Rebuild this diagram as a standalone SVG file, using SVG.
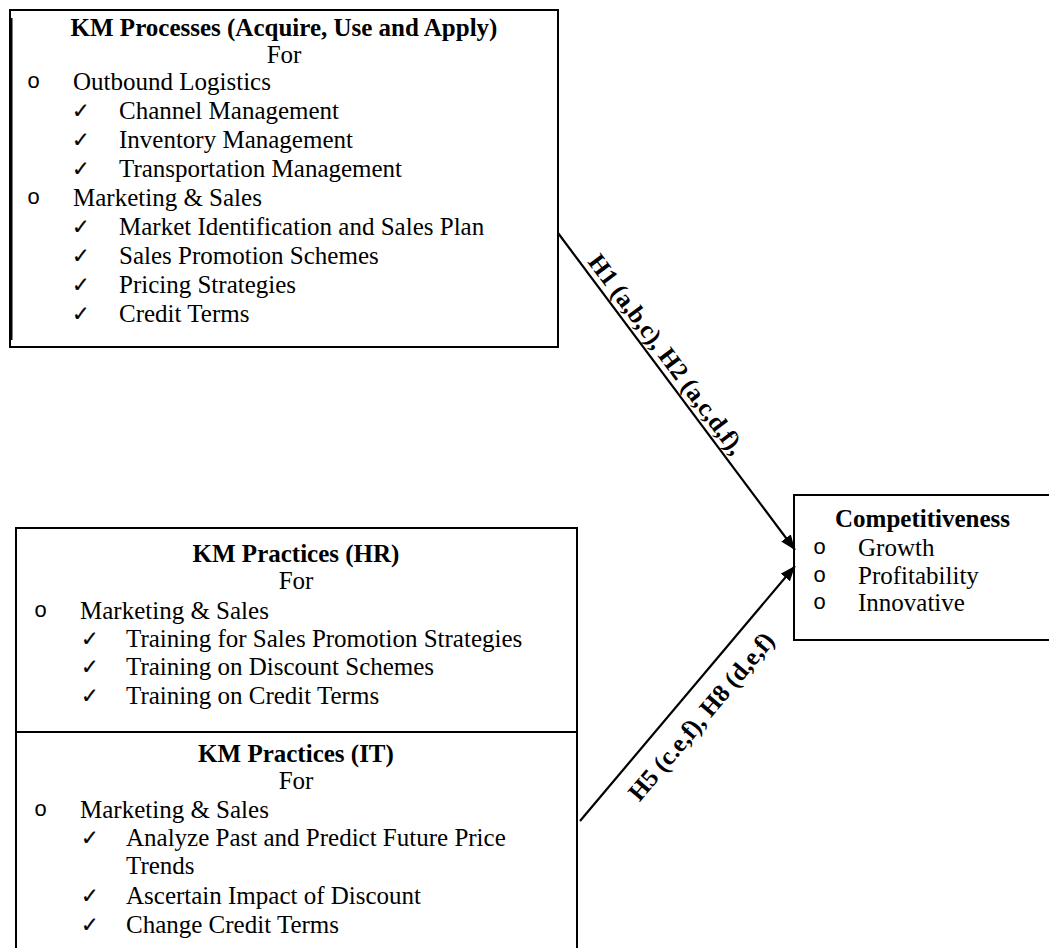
<svg xmlns="http://www.w3.org/2000/svg" width="1049" height="948" viewBox="0 0 1049 948">
  <style>
    .box { fill: #fff; stroke: #000; stroke-width: 2; }
    .t { font-family: "Liberation Serif", "Times New Roman", serif; font-size: 25px; fill: #000; }
    .b { font-weight: bold; }
    .c { text-anchor: middle; }
    .bul { font-family: "Liberation Mono", "Courier New", monospace; font-size: 22px; fill: #000; }
    .chk { font-family: "DejaVu Sans", sans-serif; font-size: 21px; fill: #000; stroke: #000; stroke-width: 0.3; }
    .lbl { font-family: "Liberation Serif", "Times New Roman", serif; font-size: 25px; font-weight: bold; fill: #000; text-anchor: middle; }
    .conn { stroke: #000; stroke-width: 2.2; fill: none; marker-end: url(#arrow); }
  </style>
  <defs>
    <marker id="arrow" markerUnits="userSpaceOnUse" markerWidth="16" markerHeight="12" refX="15" refY="6" orient="auto">
      <path d="M0,0 L15,6 L0,12 z" fill="#000"/>
    </marker>
  </defs>
  <rect width="1049" height="948" fill="#fff"/>

  <!-- KM processes box -->
  <g id="km-processes">
    <rect class="box" x="10" y="10" width="548" height="337"/>
    <line x1="11" y1="18" x2="11" y2="340" stroke="#000" stroke-width="3"/>
    <text class="t b c" x="284" y="36">KM Processes (Acquire, Use and Apply)</text>
    <text class="t c" x="284" y="63">For</text>
    <text class="bul" x="27" y="88">o</text>
    <text class="t" x="73" y="90">Outbound Logistics</text>
    <text class="chk" x="72" y="118">✓</text>
    <text class="t" x="119" y="119">Channel Management</text>
    <text class="chk" x="72" y="147">✓</text>
    <text class="t" x="119" y="148">Inventory Management</text>
    <text class="chk" x="72" y="176">✓</text>
    <text class="t" x="119" y="177">Transportation Management</text>
    <text class="bul" x="27" y="204">o</text>
    <text class="t" x="73" y="206">Marketing &amp; Sales</text>
    <text class="chk" x="72" y="234">✓</text>
    <text class="t" x="119" y="235">Market Identification and Sales Plan</text>
    <text class="chk" x="72" y="263">✓</text>
    <text class="t" x="119" y="264">Sales Promotion Schemes</text>
    <text class="chk" x="72" y="292">✓</text>
    <text class="t" x="119" y="293">Pricing Strategies</text>
    <text class="chk" x="72" y="321">✓</text>
    <text class="t" x="119" y="322">Credit Terms</text>
  </g>

  <!-- KM practices box: HR and IT sections -->
  <g id="km-practices">
    <path class="box" d="M16,960 V528 H577 V960"/>
    <line x1="15" y1="732" x2="576" y2="732" stroke="#000" stroke-width="2"/>
  </g>
  <g id="km-practices-hr">
    <text class="t b c" x="296" y="562">KM Practices (HR)</text>
    <text class="t c" x="296" y="589">For</text>
    <text class="bul" x="34" y="617">o</text>
    <text class="t" x="80" y="619">Marketing &amp; Sales</text>
    <text class="chk" x="81" y="646">✓</text>
    <text class="t" x="126" y="647">Training for Sales Promotion Strategies</text>
    <text class="chk" x="81" y="674">✓</text>
    <text class="t" x="126" y="675">Training on Discount Schemes</text>
    <text class="chk" x="81" y="703">✓</text>
    <text class="t" x="126" y="704">Training on Credit Terms</text>
  </g>
  <g id="km-practices-it">
    <text class="t b c" x="296" y="762">KM Practices (IT)</text>
    <text class="t c" x="296" y="789">For</text>
    <text class="bul" x="34" y="816">o</text>
    <text class="t" x="80" y="818">Marketing &amp; Sales</text>
    <text class="chk" x="81" y="845">✓</text>
    <text class="t" x="126" y="846">Analyze Past and Predict Future Price</text>
    <text class="t" x="126" y="874">Trends</text>
    <text class="chk" x="81" y="903">✓</text>
    <text class="t" x="126" y="904">Ascertain Impact of Discount</text>
    <text class="chk" x="81" y="932">✓</text>
    <text class="t" x="126" y="933">Change Credit Terms</text>
  </g>

  <!-- Competitiveness box -->
  <g id="competitiveness">
    <path class="box" d="M1060,495 H794 V640 H1060"/>
    <text class="t b" x="835" y="527">Competitiveness</text>
    <text class="bul" x="813" y="554">o</text>
    <text class="t" x="858" y="556">Growth</text>
    <text class="bul" x="813" y="582">o</text>
    <text class="t" x="858" y="584">Profitability</text>
    <text class="bul" x="813" y="609">o</text>
    <text class="t" x="858" y="611">Innovative</text>
  </g>

  <!-- Hypothesis connectors -->
  <g id="connectors">
    <line class="conn" x1="558" y1="233" x2="795" y2="550"/>
    <line class="conn" x1="580" y1="821" x2="795" y2="566"/>
    <text class="lbl" transform="translate(655,362.8) rotate(53.22)" x="0" y="-6">H1 (a,b,c), H2 (a,c,d,f),</text>
    <text class="lbl" transform="translate(681.6,700) rotate(-49.86)" x="0" y="34">H5 (c.e,f), H8 (d,e,f)</text>
  </g>
</svg>
